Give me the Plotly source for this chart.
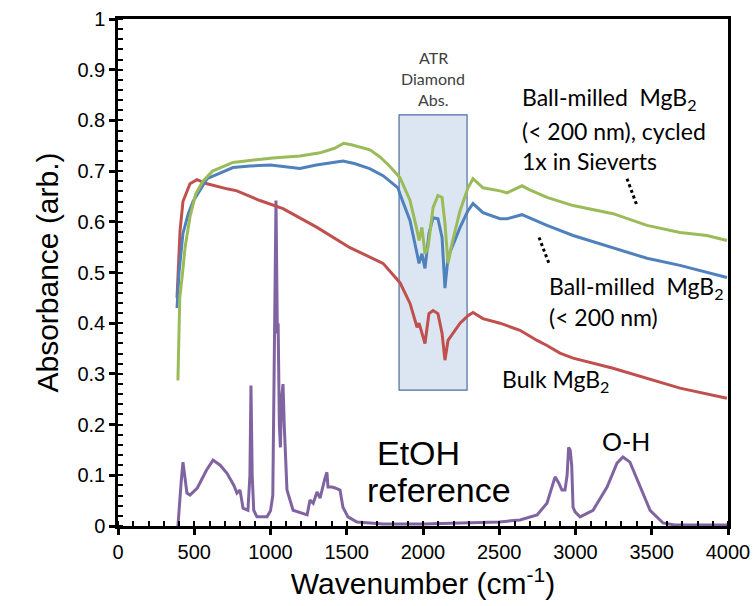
import plotly.graph_objects as go

# ---------------- data ----------------
cyc_wn = [393, 398, 405, 420, 440, 472, 510, 557, 620, 754, 900, 1016, 1193, 1325, 1420, 1480, 1530,
          1587, 1652, 1718, 1780, 1849, 1915, 1961, 1974, 1993, 2013, 2033, 2066, 2098, 2125,
          2144, 2164, 2190, 2243, 2295, 2328, 2393, 2505, 2551, 2649, 2700, 2813, 2984, 3246,
          3469, 3685, 3862, 3993]
cyc_abs = [0.287, 0.40, 0.45, 0.49, 0.55, 0.61, 0.655, 0.68, 0.70, 0.717, 0.722, 0.726, 0.73, 0.736,
           0.745, 0.755, 0.752, 0.748, 0.742, 0.728, 0.71, 0.687, 0.642, 0.583, 0.563, 0.589, 0.537, 0.549,
           0.628, 0.652, 0.648, 0.597, 0.518, 0.557, 0.622, 0.667, 0.685, 0.667, 0.661, 0.657, 0.671,
           0.663, 0.648, 0.632, 0.616, 0.593, 0.579, 0.573, 0.563]

bm_wn = [387, 400, 426, 460, 492, 584, 754, 866, 1000, 1193, 1300, 1475, 1550, 1650, 1738, 1836,
         1849, 1915, 1961, 1974, 1993, 2013, 2039, 2066, 2098, 2125, 2144, 2164, 2243, 2295, 2328,
         2393, 2505, 2551, 2649, 2813, 2984, 3246, 3469, 3685, 3993]
bm_abs = [0.43, 0.50, 0.577, 0.615, 0.64, 0.685, 0.707, 0.71, 0.712, 0.705, 0.712, 0.72, 0.715, 0.705,
          0.691, 0.667, 0.655, 0.602, 0.537, 0.518, 0.537, 0.508, 0.577, 0.608, 0.606, 0.569, 0.469,
          0.530, 0.589, 0.622, 0.636, 0.618, 0.606, 0.606, 0.614, 0.593, 0.573, 0.549, 0.528, 0.514, 0.49]

bulk_wn = [387, 407, 426, 472, 518, 584, 715, 780, 931, 1082, 1305, 1521, 1738, 1836, 1849, 1915,
           1961, 1974, 1993, 2013, 2039, 2066, 2098, 2125, 2144, 2164, 2243, 2295, 2328, 2393, 2505,
           2636, 2748, 2813, 2898, 2984, 3246, 3469, 3685, 3993]
bulk_abs = [0.45, 0.583, 0.64, 0.675, 0.683, 0.675, 0.665, 0.661, 0.642, 0.626, 0.589, 0.549, 0.518,
            0.484, 0.48, 0.439, 0.392, 0.40, 0.38, 0.36, 0.419, 0.425, 0.419, 0.38, 0.327, 0.366, 0.40,
            0.415, 0.421, 0.409, 0.40, 0.386, 0.366, 0.356, 0.341, 0.331, 0.311, 0.291, 0.272, 0.252]

etoh_wn = [393, 405, 415, 426, 440, 452, 472, 520, 580, 623, 670, 715, 760, 780, 800, 810, 820, 852,
           865, 872, 880, 890, 911, 977, 1000, 1015, 1025, 1036, 1045, 1050, 1058, 1065, 1072, 1082,
           1090, 1095, 1108, 1148, 1240, 1259, 1280, 1305, 1325, 1357, 1370, 1377, 1403, 1423, 1456,
           1475, 1508, 1567, 1738, 2000, 2300, 2500, 2636, 2748, 2813, 2850, 2866, 2890, 2911, 2931,
           2945, 2955, 2965, 2975, 2984, 2997, 3030, 3115, 3207, 3272, 3311, 3357, 3423, 3489, 3574,
           3650, 4000]
etoh_abs = [0.0, 0.06, 0.09, 0.126, 0.09, 0.065, 0.061, 0.075, 0.11, 0.13, 0.12, 0.104, 0.08, 0.065,
            0.071, 0.05, 0.035, 0.031, 0.1, 0.277, 0.1, 0.031, 0.018, 0.018, 0.03, 0.06, 0.3, 0.642,
            0.38, 0.40, 0.2, 0.155, 0.25, 0.28, 0.2, 0.155, 0.071, 0.031, 0.022, 0.051, 0.045, 0.067,
            0.055, 0.094, 0.106, 0.077, 0.077, 0.075, 0.071, 0.037, 0.018, 0.008, 0.004, 0.004, 0.006,
            0.008, 0.012, 0.022, 0.045, 0.08, 0.097, 0.085, 0.071, 0.071, 0.1, 0.155, 0.15, 0.12,
            0.037, 0.028, 0.018, 0.031, 0.077, 0.124, 0.136, 0.126, 0.077, 0.031, 0.006, 0.002, 0.002]

# leader lines (dotted)
lead_cyc_wn = [3338, 3403]
lead_cyc_abs = [0.685, 0.632]
lead_bm_wn = [2761, 2826]
lead_bm_abs = [0.569, 0.518]

# ATR diamond absorption band
atr_wn = [1843, 2289]
atr_abs = [0.268, 0.811]

x_ticks = [0, 500, 1000, 1500, 2000, 2500, 3000, 3500, 4000]
y_ticks = [0, 0.1, 0.2, 0.3, 0.4, 0.5, 0.6, 0.7, 0.8, 0.9, 1]

GREEN = "#9bbb59"
BLUE = "#4f81bd"
RED = "#c0504d"
PURPLE = "#8064a2"
ARIAL = "Liberation Sans, Arial, sans-serif"
CAL = "Lato, Carlito, Calibri, sans-serif"

fig = go.Figure()
for xs, ys, c in [(etoh_wn, etoh_abs, PURPLE), (bulk_wn, bulk_abs, RED),
                  (bm_wn, bm_abs, BLUE), (cyc_wn, cyc_abs, GREEN)]:
    fig.add_trace(go.Scatter(x=xs, y=ys, mode="lines", line=dict(color=c, width=3),
                             showlegend=False, hoverinfo="skip"))
for xs, ys in [(lead_cyc_wn, lead_cyc_abs), (lead_bm_wn, lead_bm_abs)]:
    fig.add_trace(go.Scatter(x=xs, y=ys, mode="lines", line=dict(color="black", width=3, dash="dot"),
                             showlegend=False, hoverinfo="skip"))

fig.add_shape(type="rect", x0=atr_wn[0], x1=atr_wn[1], y0=atr_abs[0], y1=atr_abs[1],
              xref="x", yref="y", layer="below", fillcolor="#dce6f2",
              line=dict(color="#4a6e9e", width=1.2))

def ann(x, y, text, size, font=CAL, xanchor="left"):
    fig.add_annotation(x=x, y=y, text=text, showarrow=False, xanchor=xanchor, yanchor="middle",
                       font=dict(family=font, size=size, color="black"))

ann(2636, 0.843, "Ball-milled  MgB<sub>2</sub>", 23)
ann(2636, 0.780, "(&lt; 200 nm), cycled", 23)
ann(2636, 0.719, "1x in Sieverts", 23)
ann(2813, 0.47, "Ball-milled  MgB<sub>2</sub>", 23)
ann(2813, 0.413, "(&lt; 200 nm)", 23)
ann(2505, 0.287, "Bulk MgB<sub>2</sub>", 23)
ann(1685, 0.144, "EtOH", 34, ARIAL)
ann(1620, 0.071, "reference", 34, ARIAL)
ann(3331, 0.167, "O-H", 25, CAL, "center")
for yy, t in [(0.925, "ATR"), (0.882, "Diamond"), (0.841, "Abs.")]:
    fig.add_annotation(x=sum(atr_wn) / 2, y=yy, text=t, showarrow=False, xanchor="center",
                       yanchor="middle", font=dict(family=CAL, size=16, color="#404040"))

axis_common = dict(showgrid=False, zeroline=False, showline=True, linecolor="black", linewidth=2.5,
                   mirror=True, ticks="outside", ticklen=6, tickwidth=2.5, tickcolor="black",
                   tickfont=dict(family=ARIAL, size=20, color="black"), automargin=False)
fig.update_layout(
    width=755, height=606, margin=dict(l=118, r=27, t=19, b=80, autoexpand=False),
    plot_bgcolor="white", paper_bgcolor="white",
    xaxis=dict(range=[0, 4000], tickvals=x_ticks, **axis_common,
               minor=dict(dtick=100, tick0=0, ticks="inside", ticklen=5, tickwidth=2, tickcolor="black"),
               title=dict(text="Wavenumber (cm<sup>-1</sup>)", font=dict(family=ARIAL, size=30, color="black"),
                          standoff=8)),
    yaxis=dict(range=[0, 1], tickvals=y_ticks, **axis_common,
               minor=dict(dtick=0.02, tick0=0, ticks="inside", ticklen=5, tickwidth=2, tickcolor="black"),
               title=dict(text="Absorbance (arb.)", font=dict(family=ARIAL, size=30, color="black"),
                          standoff=10)),
    xaxis2=dict(range=[0, 4000], overlaying="x", anchor="y", side="bottom", tickvals=x_ticks,
                ticks="inside", ticklen=6, tickwidth=2.5, tickcolor="black", showticklabels=False,
                showgrid=False, zeroline=False, showline=False),
    yaxis2=dict(range=[0, 1], overlaying="y", anchor="x", side="left", tickvals=y_ticks,
                ticks="inside", ticklen=6, tickwidth=2.5, tickcolor="black", showticklabels=False,
                showgrid=False, zeroline=False, showline=False),
)
fig.write_html("out.html")
